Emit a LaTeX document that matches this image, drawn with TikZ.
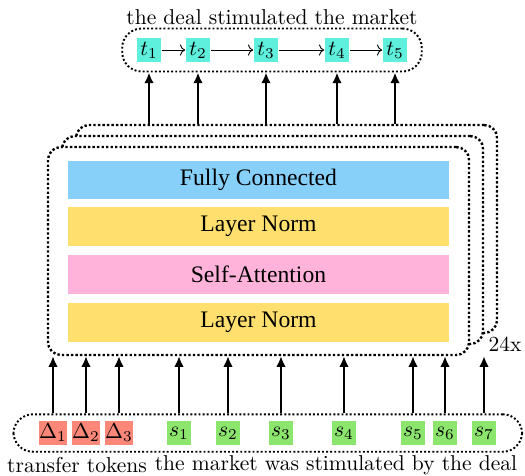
\documentclass[tikz,border=0pt]{standalone}
\usepackage{fontspec}
\newfontfamily\layerfont{Liberation Serif}
\usetikzlibrary{arrows.meta,fit}
\definecolor{tokcyan}{RGB}{94,240,220}
\definecolor{tokred}{RGB}{250,135,120}
\definecolor{tokgreen}{RGB}{140,230,110}
\definecolor{fcblue}{RGB}{135,208,250}
\definecolor{lnyellow}{RGB}{255,224,110}
\definecolor{sapink}{RGB}{255,178,218}
\begin{document}
\begin{tikzpicture}[x=0.465pt,y=-0.465pt,
    tok/.style={inner sep=0pt, minimum width=11.5pt, minimum height=11pt},
    ttok/.style={tok, fill=tokcyan},
    dtok/.style={tok, fill=tokred},
    stok/.style={tok, fill=tokgreen},
    layer/.style={minimum width=177pt, minimum height=18pt, font=\layerfont\fontsize{11}{13}\selectfont},
    block/.style={draw, fill=white, densely dotted, line width=1.1pt, rounded corners=6pt,
        minimum width=195.8pt, minimum height=96.7pt},
    row/.style={draw, densely dotted, line width=0.9pt, rounded corners=9pt},
    up/.style={-{Latex[length=5pt,width=4.5pt]}, line width=1.1pt}]
\useasboundingbox (0,0) rectangle (525,475);

\node (title) at (272,17) {the deal stimulated the market};
\node[ttok] (t1) at (149,50) {$t_1$};
\node[ttok] (t2) at (198,50) {$t_2$};
\node[ttok] (t3) at (266,50) {$t_3$};
\node[ttok] (t4) at (337,50) {$t_4$};
\node[ttok] (t5) at (395,50) {$t_5$};
\foreach \a/\b in {t1/t2,t2/t3,t3/t4,t4/t5}
    \draw[->] (\a) -- (\b);
\node[row, fit=(t1)(t5), inner xsep=6.5pt, inner ysep=4.3pt] (trow) {};

\node[block] (blk3) at (286.5,229) {};
\node[block] (blk2) at (272.5,240) {};
\node[block] (blk1) at (258.5,251) {};
\node[layer, fill=fcblue] (fc) at (258.5,180) {Fully Connected};
\node[layer, fill=lnyellow] (ln2) at (258.5,226.5) {Layer Norm};
\node[layer, fill=sapink] (sa) at (258.5,274.5) {Self-Attention};
\node[layer, fill=lnyellow] (ln1) at (258.5,322.5) {Layer Norm};
\node (rep) at (505,344) {24x};

\foreach \i in {1,...,5}
    \draw[up] (t\i |- blk3.north) -- (t\i |- trow.south);

\node[dtok] (d1) at (53,433) {$\Delta_1$};
\node[dtok] (d2) at (86,433) {$\Delta_2$};
\node[dtok] (d3) at (119,433) {$\Delta_3$};
\node[stok] (s1) at (179,433) {$s_1$};
\node[stok] (s2) at (228,433) {$s_2$};
\node[stok] (s3) at (281,433) {$s_3$};
\node[stok] (s4) at (344,433) {$s_4$};
\node[stok] (s5) at (413,433) {$s_5$};
\node[stok] (s6) at (445,433) {$s_6$};
\node[stok] (s7) at (484,433) {$s_7$};
\node[row, fit=(d1)(s7), inner xsep=11.8pt, inner ysep=3pt] (brow) {};
\foreach \n in {d1,d2,d3,s1,s2,s3,s4,s5,s6,s7}
    \draw[up] (\n |- brow.north) -- (\n |- blk1.south);

\node (lbltr) at (77,465) {transfer tokens};
\node (lblsrc) at (336,465) {the market was stimulated by the deal};
\end{tikzpicture}
\end{document}
